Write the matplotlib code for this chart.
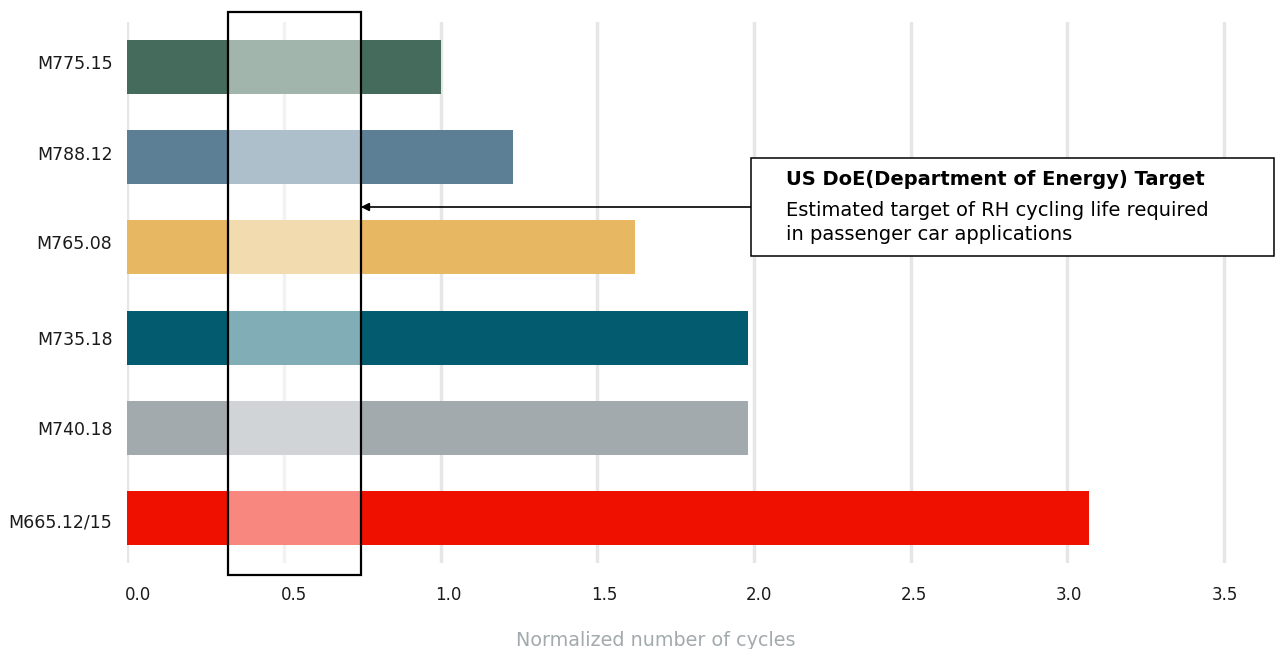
import matplotlib
matplotlib.use("Agg")
import matplotlib.pyplot as plt
from matplotlib.patches import Rectangle
from matplotlib.transforms import blended_transform_factory, ScaledTranslation

plt.rcParams['font.family'] = ['DejaVu Sans']

# Materials and their normalized RH cycling life
materials = ["M775.15", "M788.12", "M765.08", "M735.18", "M740.18", "M665.12/15"]
cycles = [1.00, 1.23, 1.62, 1.98, 1.98, 3.07]
colors = ["#446B5B", "#5C7F95", "#E8B761", "#035B70", "#A3AAAD", "#F01000"]
xticks = [0.0, 0.5, 1.0, 1.5, 2.0, 2.5, 3.0, 3.5]

# DoE target band
target_lo, target_hi = 0.32, 0.745

W, H = 1275, 649
PX = 313.3  # pixels per unit on the x axis
fig = plt.figure(figsize=(W / 100, H / 100), dpi=100)
ax = fig.add_axes([127.4 / W, 1 - 563 / H, (3.6 * PX) / W, 541 / H])

ypos = list(range(len(materials)))
ax.barh(ypos, cycles, height=0.6, color=colors, zorder=2)
ax.set_ylim(len(materials) - 0.5, -0.5)
ax.set_xlim(0, 3.6)

ax.set_yticks(ypos)
ax.set_yticklabels(materials, fontsize=12.5, color="#1a1a1a")
ax.set_xticks(xticks)
ax.set_xticklabels([f"{t:.1f}" for t in xticks], fontsize=12, color="#1a1a1a")
ax.tick_params(axis="both", length=0)
ax.tick_params(axis="y", pad=10.8)
ax.tick_params(axis="x", pad=16.5)
for s in ax.spines.values():
    s.set_visible(False)
ax.grid(axis="x", color="#E6E6E6", linewidth=2.5, zorder=0)
ax.set_axisbelow(True)

# small per-label nudges of the tick texts (pixels)
y_nudge = [-5, -4, -5, 0, 0, 3]
for lab, dy in zip(ax.get_yticklabels(), y_nudge):
    lab.set_transform(lab.get_transform() + ScaledTranslation(0, -dy / 100, fig.dpi_scale_trans))
for lab, v in zip(ax.get_xticklabels(), xticks):
    dx = 11 - 3 * v
    lab.set_transform(lab.get_transform() + ScaledTranslation(dx / 100, 0, fig.dpi_scale_trans))

fig.text(656 / W, 1 - 640 / H, "Normalized number of cycles", fontsize=13.75,
         color="#A3AAAD", ha="center", va="center")

# Target band: translucent white wash with a black outline
trans = blended_transform_factory(ax.transData, ax.transAxes)
y0, y1 = -0.0222, 1.0185
band = Rectangle((target_lo, y0), target_hi - target_lo, y1 - y0, transform=trans,
                 facecolor=(1, 1, 1, 0.5), edgecolor="black", linewidth=1.6,
                 clip_on=False, zorder=3)
ax.add_patch(band)

# Annotation box
bx0, bx1 = 751 / W, 1274 / W
by0, by1 = 1 - 256 / H, 1 - 158 / H
fig.patches.append(Rectangle((bx0, by0), bx1 - bx0, by1 - by0, transform=fig.transFigure,
                             facecolor="white", edgecolor="black", linewidth=1.1, zorder=5))
fig.text(786 / W, 1 - 179 / H, "US DoE(Department of Energy) Target", fontsize=14,
         fontweight="bold", va="center", ha="left", zorder=6)
fig.text(786 / W, 1 - 210 / H, "Estimated target of RH cycling life required",
         fontsize=14, va="center", ha="left", zorder=6)
fig.text(786 / W, 1 - 234 / H, "in passenger car applications",
         fontsize=14, va="center", ha="left", zorder=6)

ay = (563 - 207) / 541
ax.annotate("", xy=(target_hi, ay), xycoords=trans,
            xytext=(bx0, 1 - 207 / H), textcoords="figure fraction",
            arrowprops=dict(arrowstyle="-|>", color="black", lw=1.2,
                            mutation_scale=12, shrinkA=0, shrinkB=0),
            annotation_clip=False, zorder=4)

fig.savefig("out.png", dpi=100)
